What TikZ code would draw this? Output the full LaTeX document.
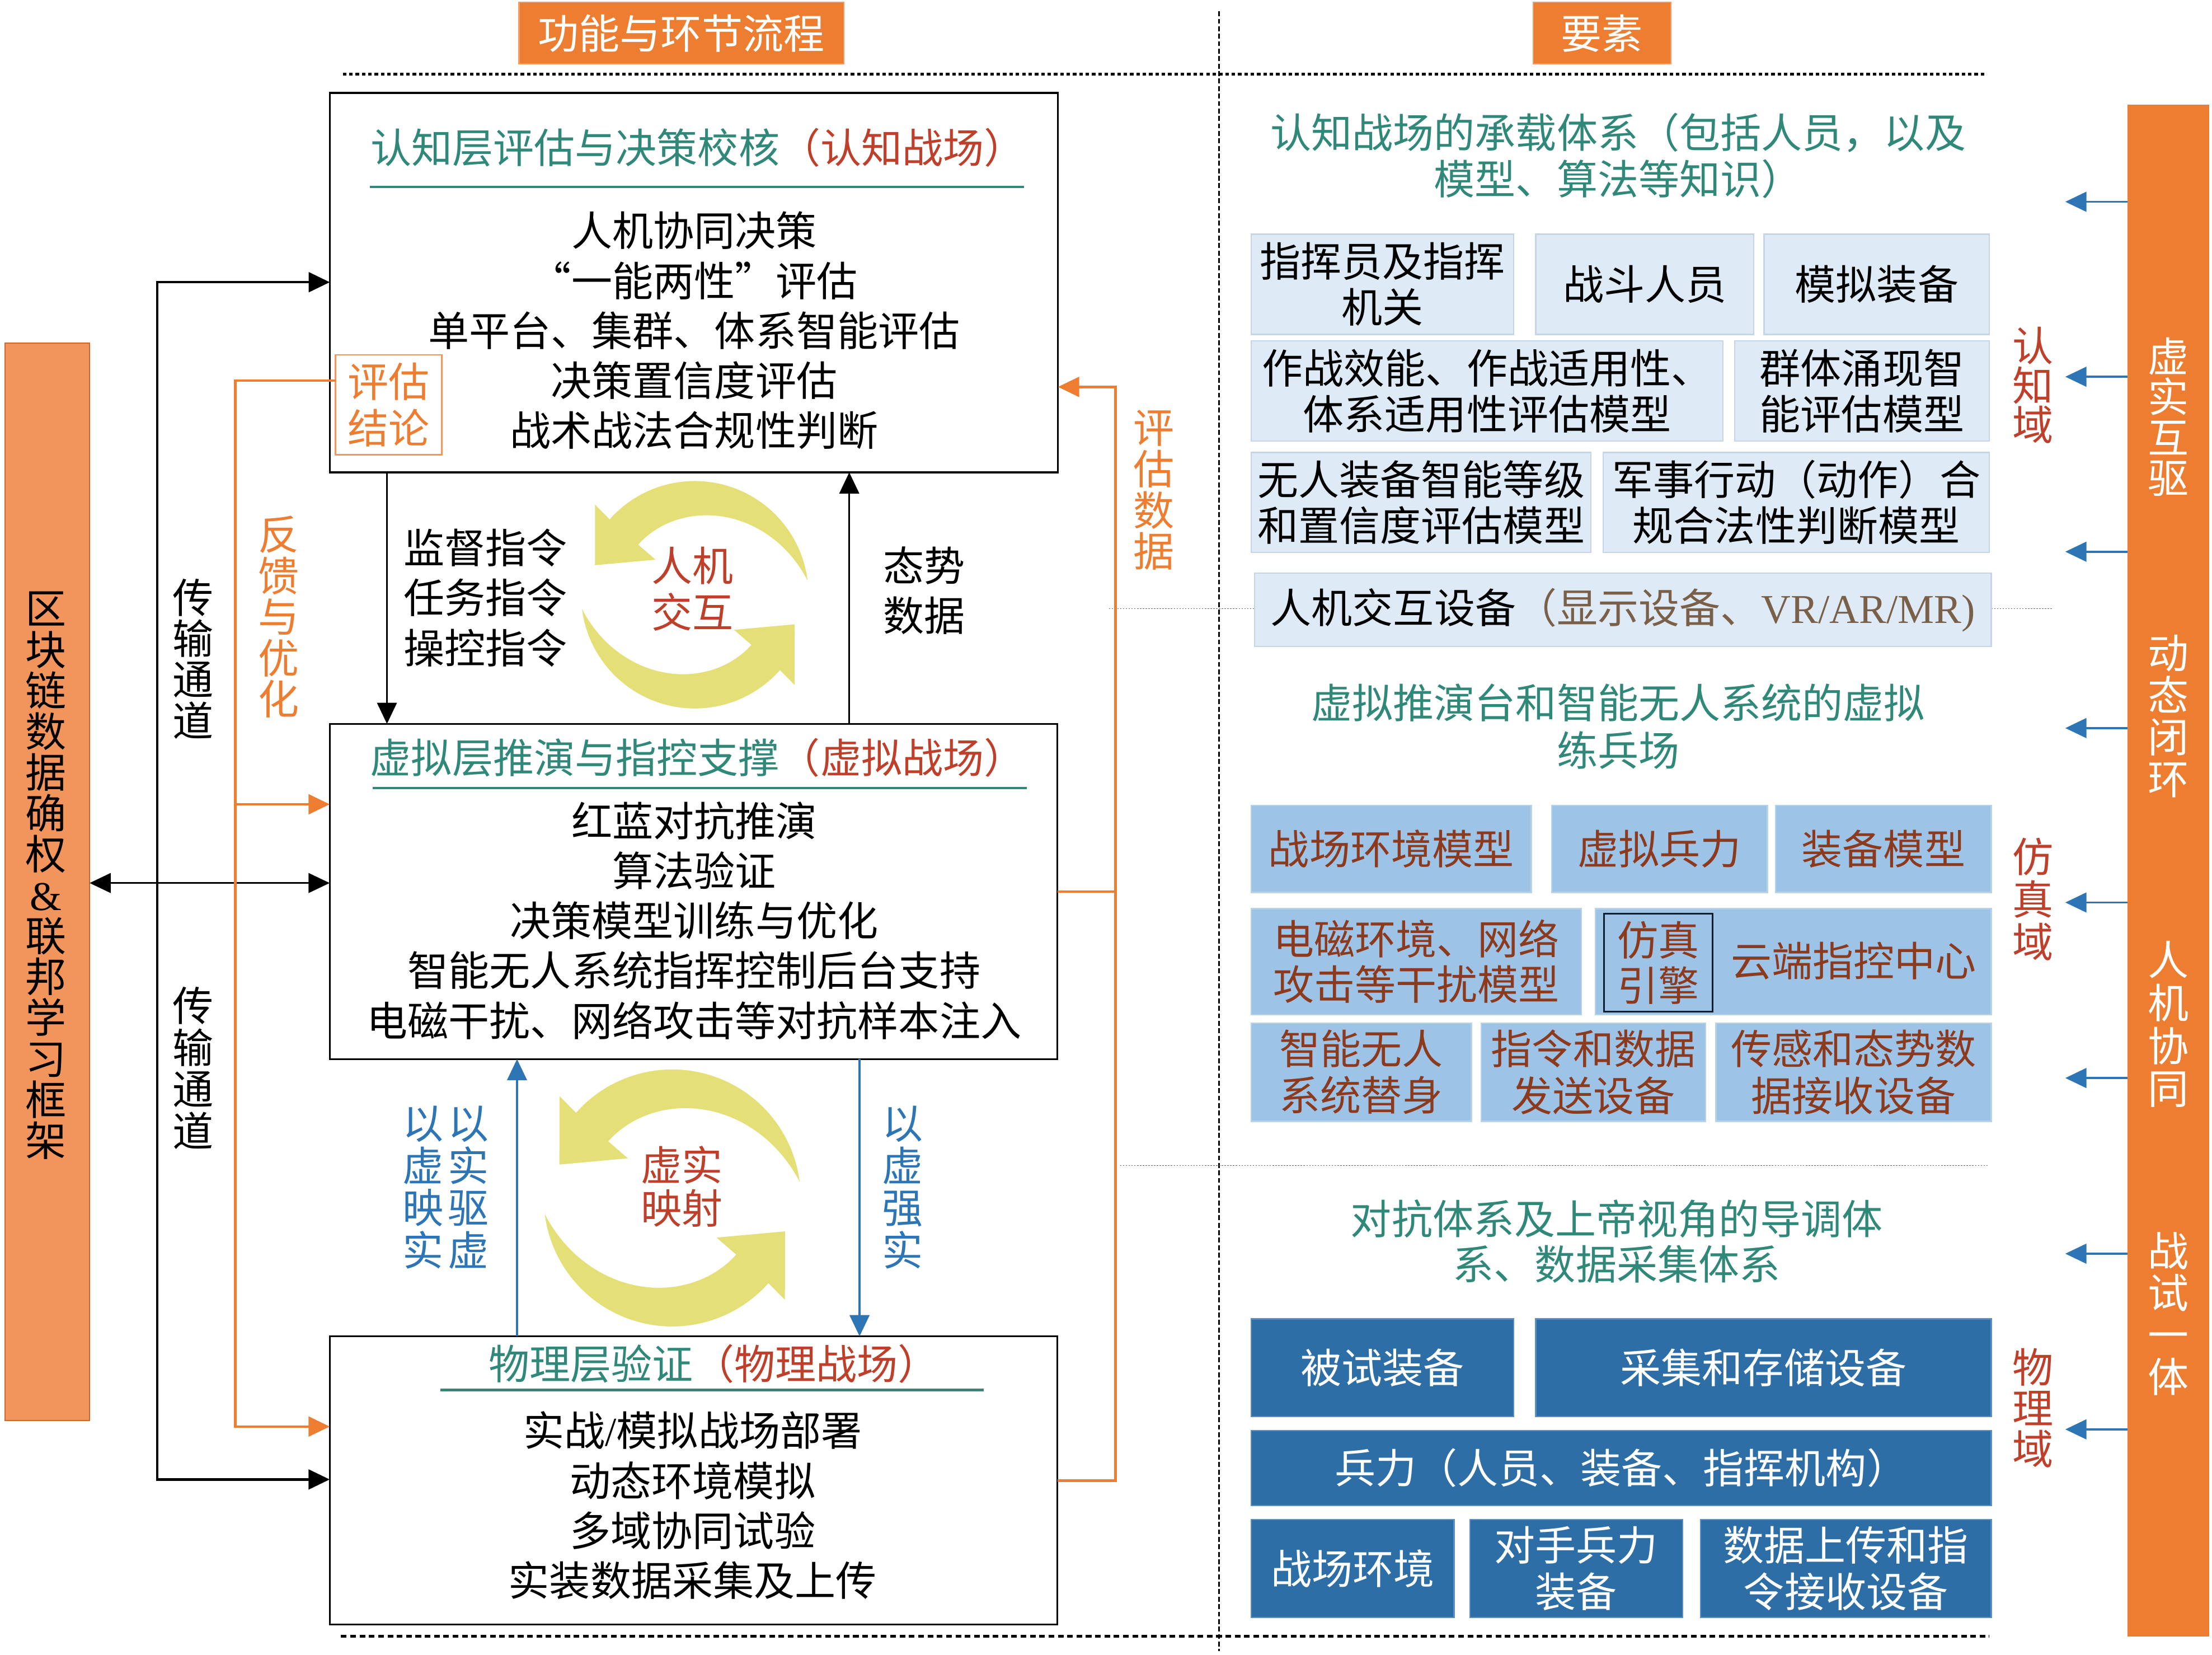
\documentclass[tikz,border=0pt]{standalone}
\usepackage{fontspec}
\setmainfont{Noto Sans CJK SC}
\newfontfamily\lsf{Liberation Serif}
\usetikzlibrary{arrows.meta}
\definecolor{orH}{HTML}{ED7D31}
\definecolor{orL}{HTML}{F2955C}
\definecolor{tealT}{HTML}{2F8878}
\definecolor{rbT}{HTML}{BE3F2A}
\definecolor{blT}{HTML}{2E75B6}
\definecolor{lbF}{HTML}{DEEBF7}
\definecolor{lbD}{HTML}{C5D5E6}
\definecolor{mbF}{HTML}{9DC3E6}
\definecolor{mbD}{HTML}{B8D2EA}
\definecolor{dbF}{HTML}{2E6EA7}
\definecolor{dbD}{HTML}{5A8DC2}
\definecolor{brT}{HTML}{8B3A1E}
\definecolor{brV}{HTML}{7A6048}
\definecolor{yelA}{HTML}{E4E077}
\newcommand{\fz}{\fontsize{29}{35.4}\selectfont}
\newcommand{\fr}{\fontsize{29}{32.5}\selectfont}
\newcommand{\fv}{\fontsize{29}{29.3}\selectfont}
\newcommand{\bx}[7]{\node[#1, anchor=north west, minimum width={(#5)-(#3)}, minimum height={(#6)-(#4)}] (#2) at (#3,#4) {#7};}
\newcommand{\yarrowshape}{%
  \fill[yelA] plot[domain=7.2:138.5, samples=60, variable=\t] ({\t}:{80.6})
    -- (137.9:95.3) -- (163.5:73.8) -- (138.2:37.3)
    -- plot[domain=138.5:7.2, samples=60, variable=\t] ({\t}:{80.6-27*(1-((138.7-\t)/131.5)^2.5)}) -- cycle;}
\begin{document}
\begin{tikzpicture}[x=1pt,y=-1pt,
  every node/.style={inner sep=0pt, outer sep=0pt},
  tri/.tip={Triangle[length=15pt,width=14pt]},
  mainbox/.style={draw=black, line width=1.3pt},
  lbox/.style={draw=lbD, fill=lbF, line width=0.9pt, align=center, font=\fr},
  mbox/.style={draw=mbD, fill=mbF, line width=0.9pt, align=center, font=\fr, text=brT},
  dbox/.style={draw=dbD, fill=dbF, line width=0.9pt, align=center, font=\fr, text=white},
  hdr/.style={draw=orH!75!white, fill=orH, line width=0.8pt, text=white, font=\fz},
  body/.style={align=center, font=\fz},
  vlab/.style={align=center, font=\fv},
  blkl/.style={draw=black, line width=1.8pt},
  blkt/.style={draw=black, line width=1.2pt},
  orl/.style={draw=orH, line width=1.8pt},
  bll/.style={draw=blT, line width=1.4pt},
  greydot/.style={draw=black!60, line width=0.6pt, dash pattern=on 1pt off 1pt}]
\useasboundingbox (0,0) rectangle (1568,1172.9);
\fill[white] (0,0) rectangle (1568,1172.9);

% headers
\bx{hdr}{h1}{367.9}{1.6}{598}{45.4}{功能与环节流程}
\bx{hdr}{h2}{1086.8}{1.6}{1184.4}{45.4}{要素}

% separators
\draw[line width=2pt, dash pattern=on 2.5pt off 2pt] (243,52.6) -- (1407,52.6);
\draw[line width=1.8pt, dash pattern=on 4pt off 2.6pt] (241.7,1159.6) -- (1410,1159.6);
\draw[line width=1.1pt, dash pattern=on 3.5pt off 1.8pt] (864,8) -- (864,1170);
\draw[greydot] (786,431.4) -- (889.3,431.4);
\draw[greydot] (1411.5,431.4) -- (1455,431.4);
\draw[greydot] (794,826) -- (1410,826);

% side bars
\bx{draw=orH!85!black, line width=0.8pt, fill=orL}{lbar}{3.6}{243.3}{63.5}{1006.6}{}
\bx{fill=orH}{rbar}{1508}{74}{1566}{1160}{}
\node[vlab, font=\fontsize{29}{29}\selectfont] (lbt) at (32.4,620.5) {区\\块\\链\\数\\据\\确\\权\\{\lsf\&}\\联\\邦\\学\\习\\框\\架};
\node[vlab, text=white, font=\fontsize{29}{28.7}\selectfont] (r1) at (1537,295.5) {虚\\实\\互\\驱};
\node[vlab, text=white, font=\fontsize{29}{29.7}\selectfont] (r2) at (1537,507.5) {动\\态\\闭\\环};
\node[vlab, text=white, font=\fontsize{29}{30.4}\selectfont] (r3) at (1537,726) {人\\机\\协\\同};
\node[vlab, text=white, font=\fontsize{29}{29.7}\selectfont] (r4) at (1537,931) {战\\试\\一\\体};
\foreach \yy in {143,267,391,516,639.6,764,888.5,1013}
  \draw[bll,-tri] (rbar.west |- 0,\yy) -- ++(-44,0);
\node[vlab, text=rbT, font=\fontsize{29}{28}\selectfont] (d1) at (1441,273) {认\\知\\域};
\node[vlab, text=rbT, font=\fontsize{29}{30}\selectfont] (d2) at (1441,637.3) {仿\\真\\域};
\node[vlab, text=rbT, font=\fontsize{29}{29}\selectfont] (d3) at (1441,998) {物\\理\\域};

% main boxes
\bx{mainbox}{b1}{233.8}{65.8}{750}{334.8}{}
\bx{mainbox}{b2}{233.7}{513}{749.5}{750.6}{}
\bx{mainbox}{b3}{233.7}{947}{749.5}{1151.3}{}
\node[font=\fz] (t1) at (494.6,104.6) {\textcolor{tealT}{认知层评估与决策校核}\textcolor{rbT}{（认知战场）}};
\node[font=\fz] (t2) at (494.5,536.8) {\textcolor{tealT}{虚拟层推演与指控支撑}\textcolor{rbT}{（虚拟战场）}};
\node[font=\fz] (t3) at (506,966.5) {\textcolor{tealT}{物理层验证}\textcolor{rbT}{（物理战场）}};
\draw[tealT, line width=1.8pt] (262,132.5) -- (726,132.5);
\draw[tealT, line width=1.8pt] (264,558.4) -- (727.8,558.4);
\draw[tealT, line width=1.8pt] (312.3,985) -- (697.5,985);
\node[body] (c1) at (492,234.3) {人机协同决策\\“一能两性”评估\\单平台、集群、体系智能评估\\决策置信度评估\\战术战法合规性判断};
\node[body] (c2) at (492,652.4) {红蓝对抗推演\\算法验证\\决策模型训练与优化\\智能无人系统指挥控制后台支持\\电磁干扰、网络攻击等对抗样本注入};
\node[body] (c3) at (491,1067) {实战{\lsf /}模拟战场部署\\动态环境模拟\\多域协同试验\\实装数据采集及上传};
\bx{draw=orH!80!white, line width=0.9pt, align=center, text=orH, font=\fontsize{29}{33}\selectfont}{pgjl}{237.8}{251.6}{313.2}{322.3}{评估\\结论}

% yellow circular arrows
\begin{scope}[shift={(492.5,421.5)}, yscale=-1]
  \yarrowshape
  \begin{scope}[rotate=180]\yarrowshape\end{scope}
\end{scope}
\begin{scope}[shift={(476.5,849)}, yscale=-1, scale=1.13]
  \yarrowshape
  \begin{scope}[rotate=180]\yarrowshape\end{scope}
\end{scope}
\node[align=center, text=rbT, font=\fontsize{29}{33}\selectfont] (hj) at (491,417.5) {人机\\交互};
\node[align=center, text=rbT, font=\fontsize{29}{30.5}\selectfont] (xs) at (483.4,841) {虚实\\映射};

% labels between boxes
\node[body] (zl) at (344,423.7) {监督指令\\任务指令\\操控指令};
\node[align=center, font=\fontsize{29}{35}\selectfont] (ts) at (655,418.5) {态势\\数据};
\node[vlab, text=blT, font=\fontsize{29}{30}\selectfont] (y1) at (300,841.5) {以\\虚\\映\\实};
\node[vlab, text=blT, font=\fontsize{29}{30}\selectfont] (y2) at (332,841.5) {以\\实\\驱\\虚};
\node[vlab, text=blT, font=\fontsize{29}{30}\selectfont] (y3) at (640,841.5) {以\\虚\\强\\实};
\node[vlab, text=orH, font=\fontsize{29}{29.2}\selectfont] (fk) at (197.5,437.2) {反\\馈\\与\\优\\化};
\node[vlab, font=\fontsize{29}{29}\selectfont] (cs1) at (136.8,467) {传\\输\\通\\道};
\node[vlab, font=\fontsize{29}{29.5}\selectfont] (cs2) at (136.8,757) {传\\输\\通\\道};
\node[vlab, text=orH, font=\fontsize{29}{29.3}\selectfont] (pg) at (817.8,347.3) {评\\估\\数\\据};

% connectors
\coordinate (tA) at (111.5,200);
\coordinate (tB) at (111.5,1048.5);
\draw[blkl, tri-tri] (tA -| b1.west) -- (tA) -- (tB) -- (tB -| b3.west);
\draw[black, line width=1.1pt, tri-tri] (lbar.east |- 0,625.8) -- (b2.west |- 0,625.8);
\coordinate (oA) at (166.8,269.8);
\coordinate (oB) at (166.8,1011);
\coordinate (oC) at (166.8,570);
\draw[orl,-tri] (pgjl.west |- oA) -- (oA) -- (oB) -- (oB -| b3.west);
\draw[orl,-tri] (oC) -- (oC -| b2.west);
\coordinate (oD) at (790.8,1049.4);
\coordinate (oE) at (790.8,274.2);
\coordinate (oF) at (790.8,631.8);
\draw[orl,-tri] (oD -| b3.east) -- (oD) -- (oE) -- (oE -| b1.east);
\draw[orl] (oF -| b2.east) -- (oF);
\draw[blkt,-tri] (b1.south -| 274.3,0) -- (b2.north -| 274.3,0);
\draw[blkt,-tri] (b2.north -| 602,0) -- (b1.south -| 602,0);
\draw[bll,-tri] (b3.north -| 366.5,0) -- (b2.south -| 366.5,0);
\draw[bll,-tri] (b2.south -| 609.3,0) -- (b3.north -| 609.3,0);

% right side titles
\node[align=center, text=tealT, font=\fontsize{29}{33}\selectfont] (rt1) at (1147,110.2) {认知战场的承载体系（包括人员，以及\\模型、算法等知识）};
\node[align=center, text=tealT, font=\fontsize{29}{33.6}\selectfont] (rt2) at (1147,514.8) {虚拟推演台和智能无人系统的虚拟\\练兵场};
\node[align=center, text=tealT, font=\fontsize{29}{32.4}\selectfont] (rt3) at (1146,879.8) {对抗体系及上帝视角的导调体\\系、数据采集体系};

% cognitive domain boxes
\bx{lbox}{k1}{887}{166}{1073}{237}{指挥员及指挥\\机关}
\bx{lbox}{k2}{1088.6}{166}{1243.2}{237}{战斗人员}
\bx{lbox}{k3}{1250.5}{166}{1410.2}{237}{模拟装备}
\bx{lbox}{k4}{887}{241.7}{1221.3}{312.5}{作战效能、作战适用性、\\体系适用性评估模型}
\bx{lbox}{k5}{1229.5}{241.7}{1410.2}{312.5}{群体涌现智\\能评估模型}
\bx{lbox}{k6}{887}{320.7}{1127.8}{391.4}{无人装备智能等级\\和置信度评估模型}
\bx{lbox}{k7}{1136.5}{320.7}{1410.2}{391.4}{军事行动（动作）合\\规合法性判断模型}
\bx{lbox}{k8}{889.3}{406.2}{1411.5}{458.2}{人机交互设备\textcolor{brV}{（显示设备、{\lsf VR/AR/MR)}}}

% simulation domain boxes
\bx{mbox}{s1}{887}{570.7}{1085.4}{632.5}{战场环境模型}
\bx{mbox}{s2}{1100}{570.7}{1252.8}{632.5}{虚拟兵力}
\bx{mbox}{s3}{1258.7}{570.7}{1411.5}{632.5}{装备模型}
\bx{mbox, font=\fontsize{29}{32}\selectfont}{s4}{887}{644}{1121}{719}{电磁环境、网络\\攻击等干扰模型}
\bx{mbox}{s5}{1131}{644}{1411.5}{719}{}
\bx{draw=black!75!blT, line width=1pt, align=center, text=brT, font=\fontsize{29}{32}\selectfont}{s6}{1137}{647.6}{1214}{717}{仿真\\引擎}
\node[font=\fr, text=brT] (s7) at (1314,681) {云端指控中心};
\bx{mbox, font=\fontsize{29}{33}\selectfont}{s8}{887}{725}{1043}{794.7}{智能无人\\系统替身}
\bx{mbox, font=\fontsize{29}{33}\selectfont}{s9}{1050}{725}{1209}{794.7}{指令和数据\\发送设备}
\bx{mbox, font=\fontsize{29}{33}\selectfont}{s10}{1216.3}{725}{1411.5}{794.7}{传感和态势数\\据接收设备}

% physical domain boxes
\bx{dbox}{p1}{887}{934.7}{1073}{1004}{被试装备}
\bx{dbox}{p2}{1088.6}{934.7}{1411.5}{1004}{采集和存储设备}
\bx{dbox}{p3}{887}{1013.8}{1411.5}{1067}{兵力（人员、装备、指挥机构）}
\bx{dbox}{p4}{887}{1077}{1030.7}{1146.3}{战场环境}
\bx{dbox, font=\fontsize{29}{33}\selectfont}{p5}{1042}{1077}{1192.6}{1146.3}{对手兵力\\装备}
\bx{dbox, font=\fontsize{29}{33}\selectfont}{p6}{1205.4}{1077}{1411.5}{1146.3}{数据上传和指\\令接收设备}
\end{tikzpicture}
\end{document}
